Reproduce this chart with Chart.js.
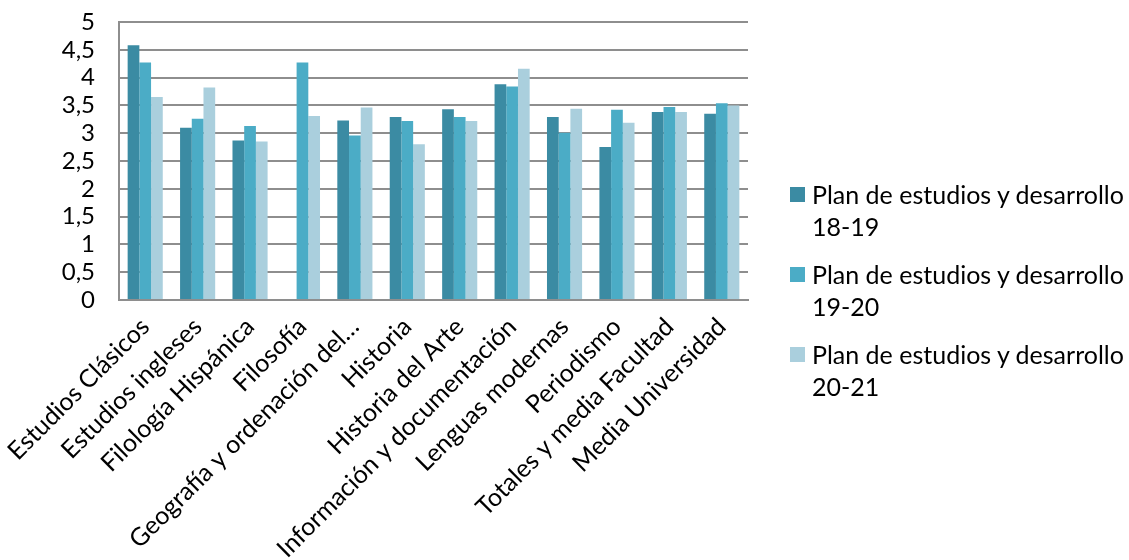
<!DOCTYPE html>
<html>
<head>
<meta charset="utf-8">
<script src="https://cdn.jsdelivr.net/npm/chart.js@4.4.1/dist/chart.umd.min.js"></script>
<style>
  html, body { margin: 0; padding: 0; background: #fff; }
  #wrap { position: relative; width: 1129px; height: 560px; overflow: hidden; }
  #legend { position: absolute; left: 790px; top: 178px; font-family: Lato, sans-serif; font-size: 25px; color: #000; }
  .item { display: flex; align-items: flex-start; margin-bottom: 16px; }
  .box { width: 15px; height: 15px; margin-top: 9px; margin-right: 7px; flex: none; }
  .txt { line-height: 32px; white-space: nowrap; }
</style>
</head>
<body>
<div id="wrap">
  <canvas id="chart" width="1129" height="560"></canvas>
  <div id="legend"></div>
</div>
<script>
const categories = [
  'Estudios Clásicos', 'Estudios ingleses', 'Filología Hispánica', 'Filosofía',
  'Geografía y ordenación del…', 'Historia', 'Historia del Arte', 'Información y documentación',
  'Lenguas modernas', 'Periodismo', 'Totales y media Facultad', 'Media Universidad'
];
const seriesNames = ['Plan de estudios y desarrollo 18-19', 'Plan de estudios y desarrollo 19-20', 'Plan de estudios y desarrollo 20-21'];
const legendLines = [['Plan de estudios y desarrollo', '18-19'], ['Plan de estudios y desarrollo', '19-20'], ['Plan de estudios y desarrollo', '20-21']];
const values1819 = [4.58, 3.10, 2.87, null, 3.23, 3.29, 3.43, 3.88, 3.29, 2.75, 3.38, 3.35];
const values1920 = [4.27, 3.26, 3.13, 4.27, 2.96, 3.22, 3.29, 3.84, 3.01, 3.42, 3.47, 3.54];
const values2021 = [3.65, 3.82, 2.85, 3.31, 3.46, 2.80, 3.22, 4.16, 3.44, 3.19, 3.38, 3.50];
const colors = ['#3B8BA3', '#4BACC6', '#AACFDD'];

const FONT = 'Lato, sans-serif';

const ctx = document.getElementById('chart').getContext('2d');
new Chart(ctx, {
  type: 'bar',
  data: {
    labels: categories,
    datasets: [values1819, values1920, values2021].map((data, i) => ({
      label: seriesNames[i],
      data,
      backgroundColor: colors[i],
      borderWidth: 0,
      categoryPercentage: 0.67,
      barPercentage: 1,
    })),
  },
  options: {
    responsive: false,
    animation: false,
    layout: { padding: { top: 22, right: 381, left: 0, bottom: 0 } },
    plugins: { legend: { display: false }, tooltip: { enabled: false } },
    scales: {
      x: {
        grid: { display: false },
        border: { display: true, color: '#8e8e8e', width: 2 },
        ticks: { color: '#000', font: { family: FONT, size: 25 }, minRotation: 45, maxRotation: 45, autoSkip: false, padding: 4 },
        afterFit: s => { s.height = 260; },
      },
      y: {
        min: 0,
        max: 5,
        // tick marks invisibles : juste pour décaler les libellés
        grid: { color: '#8e8e8e', lineWidth: 2, drawTicks: true, tickLength: 21, tickColor: 'rgba(0,0,0,0)' },
        border: { display: true, color: '#8e8e8e', width: 2 },
        ticks: {
          stepSize: 0.5,
          autoSkip: false,
          padding: 3,
          color: '#000',
          font: { family: FONT, size: 24 },
          callback: v => String(v).replace('.', ','),
        },
        afterFit: s => { s.width = 119; },
      },
    },
  },
});

// Légende HTML
const legend = document.getElementById('legend');
legendLines.forEach((lines, i) => {
  legend.innerHTML += `
    <div class="item">
      <span class="box" style="background:${colors[i]}"></span>
      <span class="txt">${lines.join('<br>')}</span>
    </div>`;
});
</script>
</body>
</html>
